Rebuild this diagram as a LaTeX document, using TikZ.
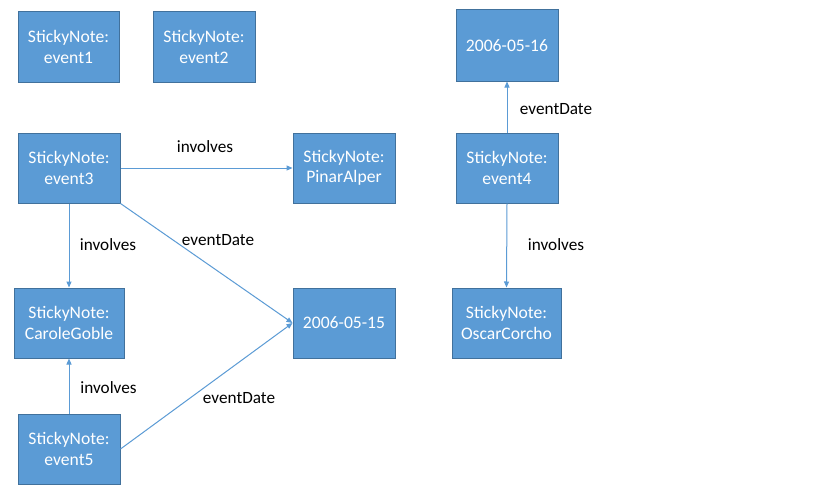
\documentclass[tikz,border=0pt]{standalone}
\usepackage{fontspec}
\setmainfont{Carlito}
\usetikzlibrary{arrows.meta}
\definecolor{boxfill}{HTML}{5B9BD5}
\definecolor{boxline}{HTML}{41719C}
\definecolor{edgecol}{HTML}{5B9BD5}
\begin{document}
\begin{tikzpicture}[x=1pt,y=-1pt,
  note/.style={draw=boxline, line width=1pt, fill=boxfill, text=white, align=center,
    minimum width=102pt, minimum height=70pt, inner sep=0pt,
    font=\fontsize{17.6}{20.5}\selectfont},
  rel/.style={draw=edgecol, line width=1pt, -{Triangle[length=6pt,width=5pt]}},
  lbl/.style={anchor=base, inner sep=0pt, font=\fontsize{17.2}{20.5}\selectfont, text=black}]
\useasboundingbox[fill=white] (0,0) rectangle (819,495);

\node[note, minimum width=101pt] (e1) at (68.5,47) {StickyNote:\\event1};
\node[note] (e2) at (204,47) {StickyNote:\\event2};
\node[note] (e3) at (69,168) {StickyNote:\\event3};
\node[note] (pa) at (344,168) {StickyNote:\\PinarAlper};
\node[note, minimum width=110pt] (cg) at (69,323) {StickyNote:\\CaroleGoble};
\node[note] (d15) at (344,323) {2006-05-15};
\node[note] (e5) at (69,449) {StickyNote:\\event5};
\node[note, minimum height=71pt] (d16) at (507,45.5) {2006-05-16};
\node[note] (e4) at (507,168) {StickyNote:\\event4};
\node[note, minimum width=109pt] (oc) at (506.5,323) {StickyNote:\\OscarCorcho};

\draw[rel] (e3.east) -- (pa.west);
\draw[rel] (e3.south) -- (cg.north);
\draw[rel] (e3.south east) -- (d15.west);
\draw[rel] (e5.north) -- (cg.south);
\draw[rel] (e5.east) -- (d15.west);
\draw[rel] (e4.north) -- (d16.south);
\draw[rel] (e4.south) -- (oc.north);

\node[lbl] (l1) at (205,152) {involves};
\node[lbl] (l2) at (108,250) {involves};
\node[lbl] (l3) at (218,245) {eventDate};
\node[lbl] (l4) at (108.5,393) {involves};
\node[lbl] (l5) at (239,403) {eventDate};
\node[lbl] (l6) at (556,114) {eventDate};
\node[lbl] (l7) at (556,250) {involves};
\end{tikzpicture}
\end{document}
